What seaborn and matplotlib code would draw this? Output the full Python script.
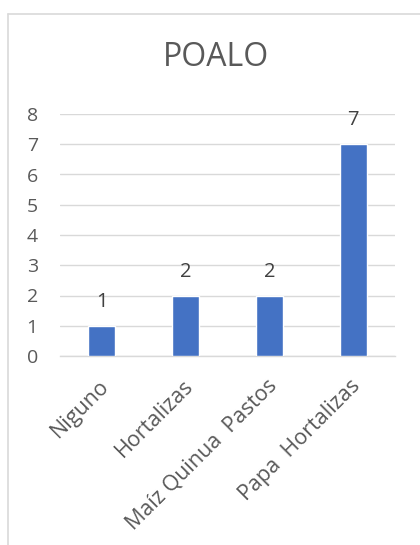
import matplotlib
matplotlib.use("Agg")
import matplotlib.pyplot as plt
import matplotlib.transforms as mtransforms
import seaborn as sns
import pandas as pd
from matplotlib.lines import Line2D

categories = ["Niguno", "Hortalizas", "Maíz Quinua  Pastos", "Papa  Hortalizas"]
values = [1, 2, 2, 7]
yticks = [0, 1, 2, 3, 4, 5, 6, 7, 8]
title = "POALO"

sns.set_theme(style="white")
plt.rcParams['font.family'] = ['Open Sans', 'DejaVu Sans']

W, H = 420, 545
fig = plt.figure(figsize=(W / 100, H / 100), dpi=100)
ax = fig.add_axes([60 / W, 1 - 356 / H, 335 / W, (356 - 114) / H])

df = pd.DataFrame({"cat": categories, "val": values})
sns.barplot(data=df, x="cat", y="val", color="#4472C4", width=0.32,
            saturation=1, ax=ax, zorder=3)

ax.set_ylim(0, 8)
ax.set_yticks(yticks)
ax.set_yticklabels([str(t) for t in yticks], fontsize=14, color="#595959")
ax.grid(axis="y", color="#D9D9D9", linewidth=1, zorder=0)
ax.set_axisbelow(True)
for s in ["top", "right", "left"]:
    ax.spines[s].set_visible(False)
ax.spines["bottom"].set_color("#D9D9D9")
ax.spines["bottom"].set_linewidth(1)
ax.tick_params(axis="y", length=0, pad=16)
ax.set_xlabel("")
ax.set_ylabel("")

ax.set_xticks(range(len(categories)))
ax.set_xticklabels(categories, rotation=45, ha="right", rotation_mode="anchor",
                   fontsize=15.5, color="#595959")
ax.tick_params(axis="x", length=0, pad=14)
shift = mtransforms.ScaledTranslation(-3 / 100, 0, fig.dpi_scale_trans)
for lbl in ax.get_xticklabels():
    lbl.set_transform(lbl.get_transform() + shift)

for i, v in enumerate(values):
    ax.annotate(str(v), (i, v), xytext=(0, 10), textcoords="offset points",
                ha="center", va="bottom", fontsize=14.5, color="#404040")

fig.text(216 / W, 1 - 58 / H, title, ha="center", va="center",
         fontsize=23, color="#595959")

# chart border (partially visible)
fig.add_artist(Line2D([8 / W, 1], [1 - 14 / H, 1 - 14 / H], transform=fig.transFigure,
                      color="#D9D9D9", linewidth=1.2))
fig.add_artist(Line2D([8 / W, 8 / W], [0, 1 - 14 / H], transform=fig.transFigure,
                      color="#D9D9D9", linewidth=1.2))

fig.savefig("out.png", dpi=100, facecolor="white")
